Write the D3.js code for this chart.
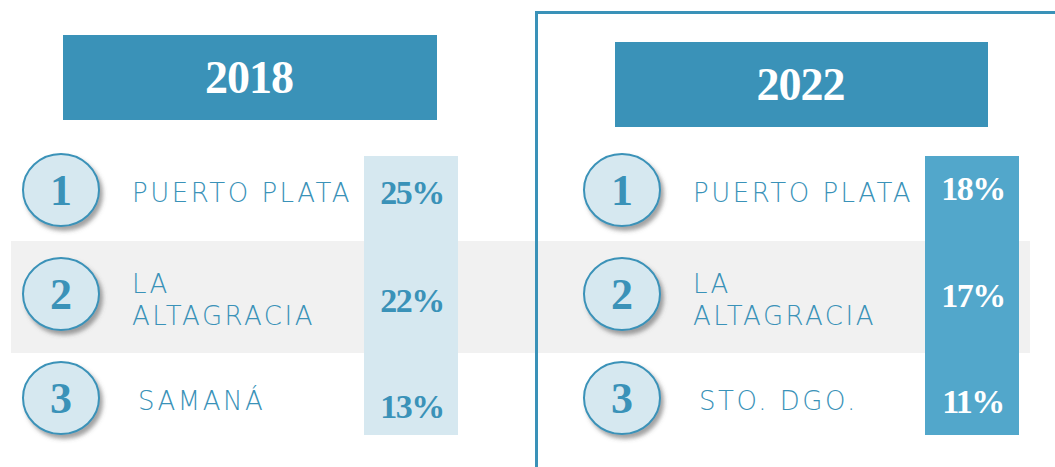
<!DOCTYPE html>
<html>
<head>
<meta charset="utf-8">
<script src="https://cdn.jsdelivr.net/npm/d3@7"></script>
<style>
  html, body { margin: 0; padding: 0; background: #fff; }
  svg { display: block; }
</style>
</head>
<body>
<svg id="chart" width="1055" height="467"></svg>
<script>
// ---- data ----
const years = ["2018", "2022"];
const ranks = [1, 2, 3];
const names2018 = [["PUERTO PLATA"], ["LA", "ALTAGRACIA"], ["SAMANÁ"]];
const names2022 = [["PUERTO PLATA"], ["LA", "ALTAGRACIA"], ["STO. DGO."]];
const values2018 = [25, 22, 13];
const values2022 = [18, 17, 11];

// ---- layout ----
const W = 1055, H = 467;
const blue = "#3A92B8";
const svg = d3.select("#chart");

const defs = svg.append("defs");
const f = defs.append("filter").attr("id", "sh").attr("x", "-30%").attr("y", "-30%").attr("width", "170%").attr("height", "170%");
f.append("feDropShadow").attr("dx", 3).attr("dy", 4).attr("stdDeviation", 2.2)
  .attr("flood-color", "#555").attr("flood-opacity", 0.55);

const y = d3.scalePoint().domain(ranks).range([190, 398]);

// grey band behind row 2
svg.append("rect").attr("x", 11).attr("y", 241).attr("width", 1030 - 11).attr("height", 353 - 241)
  .attr("fill", "#F1F1F1");

// right panel frame
svg.append("path")
  .attr("d", `M536.5,${H + 5} V12.5 H${W + 5}`)
  .attr("fill", "none").attr("stroke", blue).attr("stroke-width", 3);

const panels = [
  { year: years[0], names: names2018, values: values2018, dx: 0,
    head: { x: 63, y: 35, w: 374, h: 85 },
    colFill: "#D6E8F0", valFill: blue, valDy: [14, 18, 20] },
  { year: years[1], names: names2022, values: values2022, dx: 561,
    head: { x: 615, y: 42, w: 373, h: 85 },
    colFill: "#52A7CB", valFill: "#ffffff", valDy: [10, 13, 15] }
];

const serif = "'Liberation Serif', 'Times New Roman', serif";
const sans = "'DejaVu Sans', 'Open Sans', sans-serif";

panels.forEach(p => {
  const g = svg.append("g").attr("transform", `translate(${p.dx},0)`);
  // header
  const hd = svg.append("g");
  hd.append("rect").attr("x", p.head.x).attr("y", p.head.y).attr("width", p.head.w).attr("height", p.head.h)
    .attr("fill", blue);
  hd.append("text").attr("x", p.head.x + p.head.w / 2 - 1).attr("y", p.head.y + p.head.h / 2 + 15)
    .attr("text-anchor", "middle").attr("fill", "#fff")
    .attr("font-family", serif).attr("font-weight", "bold").attr("font-size", 46)
    .attr("letter-spacing", -1)
    .text(p.year);

  // value column
  g.append("rect").attr("x", 364).attr("y", 156).attr("width", 94).attr("height", 279)
    .attr("fill", p.colFill);

  const rows = g.selectAll("g.row").data(ranks).join("g").attr("class", "row");

  rows.append("ellipse")
    .attr("cx", 61).attr("cy", d => y(d)).attr("rx", 38).attr("ry", 36)
    .attr("fill", "#D6E8F0").attr("stroke", blue).attr("stroke-width", 2)
    .attr("filter", "url(#sh)");

  rows.append("text")
    .attr("x", 61).attr("y", d => y(d) + 15)
    .attr("text-anchor", "middle").attr("fill", blue)
    .attr("font-family", serif).attr("font-weight", "bold").attr("font-size", 44)
    .text(d => d);

  rows.append("text")
    .attr("x", (d, i) => i === 2 ? 138 : 132)
    .attr("y", (d, i) => y(d) + (p.names[i].length > 1 ? -1 : 12))
    .attr("fill", blue)
    .attr("font-family", sans).attr("font-weight", 200).attr("font-size", 26)
    .attr("letter-spacing", 2.5)
    .each(function (d, i) {
      const t = d3.select(this);
      p.names[i].forEach((line, k) => {
        t.append("tspan").attr("x", i === 2 ? 138 : 132).attr("dy", k === 0 ? 0 : 32).text(line);
      });
    });

  rows.append("text")
    .attr("x", 412).attr("y", (d, i) => y(d) + p.valDy[i])
    .attr("text-anchor", "middle").attr("fill", p.valFill)
    .attr("font-family", serif).attr("font-weight", "bold").attr("font-size", 34)
    .attr("letter-spacing", -1.5)
    .text((d, i) => p.values[i] + "%");
});
</script>
</body>
</html>
